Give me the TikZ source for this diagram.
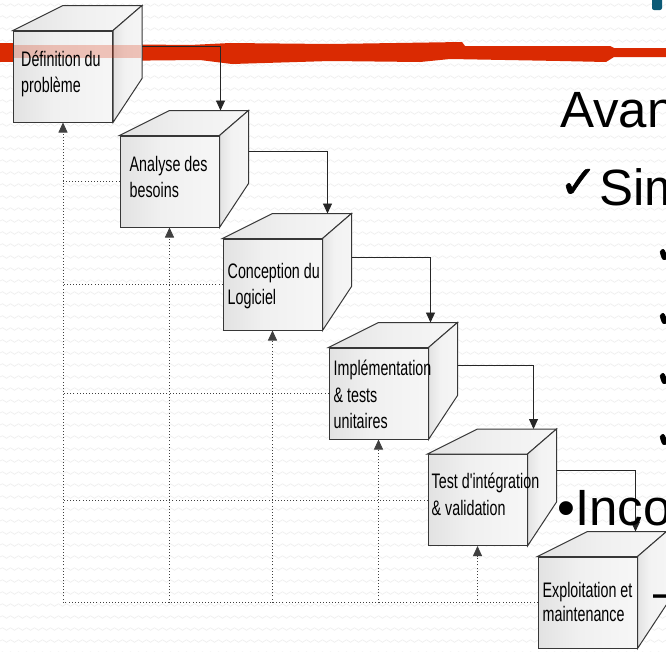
\documentclass[tikz,border=0pt]{standalone}
\usepackage{fontspec}
\setmainfont{Liberation Sans}
\newfontfamily\boxfont{Liberation Sans}[FakeStretch=0.68]
\newfontfamily\symfont{DejaVu Sans}[FakeBold=1.2]
\usetikzlibrary{arrows.meta,decorations.pathmorphing}
\definecolor{redstroke}{RGB}{218,42,2}
\definecolor{edgecol}{RGB}{55,55,55}
\definecolor{tealbar}{RGB}{12,90,118}
\definecolor{wavecol}{RGB}{237,237,237}
\pgfdeclarehorizontalshading{frontshade}{100bp}{color(0bp)=(gray!52); color(12bp)=(gray!30); color(45bp)=(gray!12); color(100bp)=(gray!2)}
\pgfdeclarehorizontalshading{sideshade}{100bp}{color(0bp)=(gray!38); color(45bp)=(gray!10); color(100bp)=(gray!6)}
\pgfdeclarehorizontalshading{topshade}{100bp}{color(0bp)=(gray!32); color(50bp)=(gray!12); color(100bp)=(gray!2)}
\tikzset{
  frontface/.style={draw=edgecol, line width=1pt, minimum width=99pt, minimum height=91pt, inner sep=0pt, shading=frontshade},
  topface/.style={draw=edgecol, line width=1pt, shading=topshade},
  sideface/.style={draw=edgecol, line width=1pt, shading=sideshade},
  boxtext/.style={inner sep=0pt, anchor=base west, align=left, font=\boxfont\fontsize{21}{26.5}\selectfont},
  conn/.style={draw=black!85, line width=0.9pt, -{Triangle[length=10pt,width=9pt]}},
  feedback/.style={draw=black!75, line width=0.8pt, dash pattern=on 0.9pt off 2.2pt},
  feedarrow/.style={feedback, -{Triangle[length=10pt,width=9pt]}},
  bigtext/.style={inner sep=0pt, anchor=base west, font=\fontsize{51}{51}\selectfont},
  checkmark/.style={inner sep=0pt, anchor=base west, font=\symfont\fontsize{46}{46}\selectfont},
  wave/.style={draw=wavecol, line width=0.6pt, decorate, decoration={snake, amplitude=1.3pt, segment length=8pt}},
}
\newcommand\drawcube[3]{%
  \node[frontface] (#1) at (#2,#3) {};
  \shade[topface] (#1.north west) -- ++(50,-25) -- ([shift={(29,-25)}]#1.north east) -- (#1.north east) -- cycle;
  \shade[sideface] (#1.north east) -- ++(29,-25) -- ([shift={(29,-44)}]#1.south east) -- (#1.south east) -- cycle;
}
\begin{document}
\begin{tikzpicture}[x=1pt,y=-1pt]
\useasboundingbox (0,0) rectangle (666,651);
\clip (0,0) rectangle (666,651);
\fill[white] (0,0) rectangle (666,651);
\foreach \yy in {5,17,...,653} \path[wave] (0,\yy) -- (672,\yy);
% red marker stroke
\fill[redstroke] (0,43) -- (190,45) -- (230,43) -- (330,44) -- (462,42) -- (465,46) -- (610,46) -- (614,48) -- (666,48) -- (666,57) -- (614,57) -- (606,62) -- (560,61) -- (450,59) -- (420,62) -- (330,61) -- (232,64) -- (200,60) -- (0,62) -- cycle;
\fill[tealbar, rounded corners=2pt] (652,-5) rectangle (662,10);
% cubes
\drawcube{b1}{63}{76.5}
\drawcube{b2}{169.5}{181.5}
\drawcube{b3}{272.5}{284.5}
\drawcube{b4}{378.5}{393.5}
\drawcube{b5}{477.5}{500}
\drawcube{b6}{587.5}{602.5}
\fill[redstroke, opacity=0.25] (14,45) rectangle (141,58);
% texts (anchor = baseline of last line)
\node[boxtext] (t1) at ([shift={(8,62)}]b1.north west) {Définition du\\problème};
\node[boxtext] (t2) at ([shift={(10,62)}]b2.north west) {Analyse des\\besoins};
\node[boxtext] (t3) at ([shift={(5,66)}]b3.north west) {Conception du\\Logiciel};
\node[boxtext] (t4) at ([shift={(5,81)}]b4.north west) {Implémentation\\\& tests\\unitaires};
\node[boxtext] (t5) at ([shift={(4,61)}]b5.north west) {Test d'intégration\\\& validation};
\node[boxtext, font=\boxfont\fontsize{21}{24.5}\selectfont] (t6) at ([shift={(5,65)}]b6.north west) {Exploitation et\\maintenance};
% forward connectors
\coordinate (o1) at ([shift={(29,16)}]b1.north east);
\coordinate (o2) at ([shift={(29,16)}]b2.north east);
\coordinate (o3) at ([shift={(29,19)}]b3.north east);
\coordinate (o4) at ([shift={(29,18)}]b4.north east);
\coordinate (o5) at ([shift={(29,16)}]b5.north east);
\coordinate (i2) at ([shift={(1,-25)}]b2.north east);
\coordinate (i3) at ([shift={(5,-25)}]b3.north east);
\coordinate (i4) at ([shift={(2,-25)}]b4.north east);
\coordinate (i5) at ([shift={(6,-25)}]b5.north east);
\coordinate (i6) at ([shift={(-2,-25)}]b6.north east);
\draw[conn] (o1) -| (i2);
\draw[conn] (o2) -| (i3);
\draw[conn] (o3) -| (i4);
\draw[conn] (o4) -| (i5);
\draw[conn] (o5) -| (i6);
% feedback connectors
\foreach \n in {2,...,6} \draw[feedback] (b\n.west) -- (b\n.west -| b1.south);
\foreach \n in {1,...,5} \draw[feedarrow] (b\n.south |- b6.west) -- (b\n.south);
% right-hand text
\node[bigtext] (av) at (560,127) {Avantages};
\node[checkmark] (sc) at (559,198) {✓};
\node[bigtext] (si) at (599,205) {Simplicité};
\node[checkmark] (k1) at (653,264) {✓};
\node[checkmark] (k2) at (653,328) {✓};
\node[checkmark] (k3) at (653,388) {✓};
\node[checkmark] (k4) at (653,449) {✓};
\node[bigtext] (inc) at (557,525) {•Inconvénients};
\node[bigtext] (da) at (653,609) {–};
\end{tikzpicture}
\end{document}
